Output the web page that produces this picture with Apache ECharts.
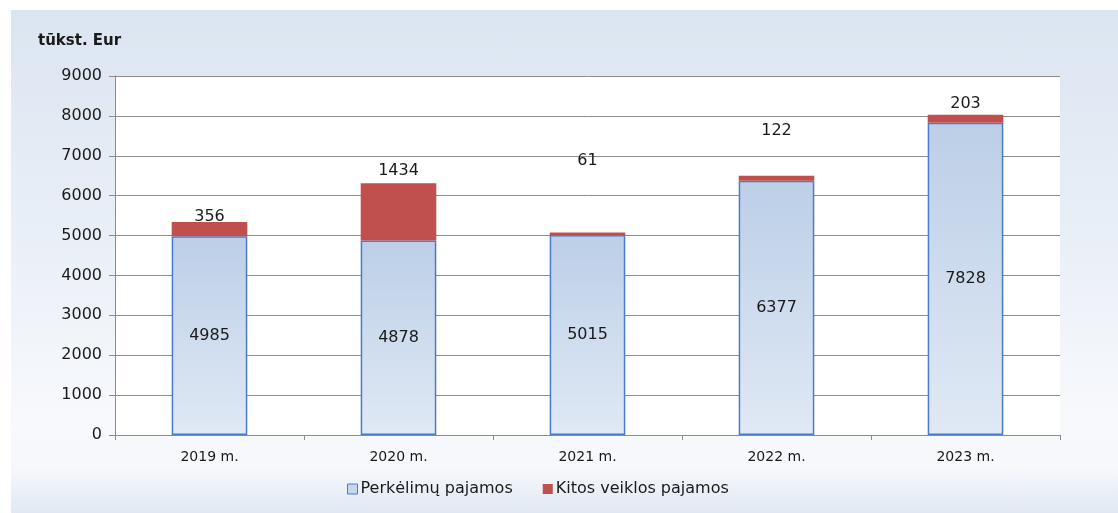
<!DOCTYPE html>
<html lang="lt">
  <head>
    <meta charset="UTF-8" />
    <title>Pajamos</title>
    <script src="https://cdn.jsdelivr.net/npm/echarts@6/dist/echarts.min.js"></script>
    <style>
      html,
      body {
        margin: 0;
        padding: 0;
        background: #ffffff;
      }
      #bg {
        position: absolute;
        left: 11px;
        top: 10px;
        width: 1107px;
        height: 503px;
        background: linear-gradient(
          to bottom,
          #dbe5f1 0%,
          #e9eff7 45%,
          #f7f9fc 80%,
          #f6f8fc 91%,
          #e0e8f3 100%
        );
      }
      #chart {
        position: absolute;
        left: 0;
        top: 0;
        width: 1118px;
        height: 513px;
      }
    </style>
  </head>
  <body>
    <div id="bg"></div>
    <div id="chart"></div>

    <script>
      var years = ["2019 m.", "2020 m.", "2021 m.", "2022 m.", "2023 m."];
      var transferIncome = [4985, 4878, 5015, 6377, 7828];
      var otherIncome = [356, 1434, 61, 122, 203];

      // label shifts for the red values, as placed in the original
      var otherLabelShift = [8, 1, -59, -32, 2];

      var chart = echarts.init(document.getElementById("chart"), null, {
        renderer: "canvas",
      });

      var font = "'DejaVu Sans', Verdana, sans-serif";

      var option = {
        backgroundColor: "transparent",
        textStyle: { fontFamily: font },
        title: {
          text: "tūkst. Eur",
          left: 33,
          top: 29,
          textStyle: {
            fontFamily: font,
            fontSize: 15,
            fontWeight: "bold",
            color: "#1a1a1a",
          },
        },
        graphic: [
          {
            type: "rect",
            z: -10,
            shape: { x: 115, y: 76, width: 945, height: 359 },
            style: { fill: "#ffffff" },
          },
        ],
        legend: {
          bottom: 11,
          left: 342,
          itemWidth: 10,
          itemHeight: 10,
          itemGap: 30,
          icon: "rect",
          textStyle: { fontFamily: font, fontSize: 16, color: "#1a1a1a", padding: [0, 0, 0, -2] },
          data: [
            {
              name: "Perkėlimų pajamos",
              itemStyle: { color: "#c6d6ec", borderColor: "#4a7bd0", borderWidth: 1 },
            },
            { name: "Kitos veiklos pajamos", itemStyle: { color: "#c0504d" } },
          ],
        },
        grid: { left: 115, right: 58, top: 76, bottom: 78 },
        xAxis: {
          type: "category",
          data: years,
          axisLine: { lineStyle: { color: "#8c8c8c", width: 1 } },
          axisTick: { show: true, length: 5, lineStyle: { color: "#8c8c8c" } },
          axisLabel: { fontFamily: font, fontSize: 14, color: "#1a1a1a", margin: 15 },
        },
        yAxis: {
          type: "value",
          min: 0,
          max: 9000,
          interval: 1000,
          axisLine: { show: true, lineStyle: { color: "#8c8c8c", width: 1 } },
          axisTick: { show: true, length: 6, lineStyle: { color: "#8c8c8c" } },
          splitLine: { lineStyle: { color: "#8c8c8c", width: 1 } },
          axisLabel: {
            fontFamily: font,
            fontSize: 16,
            color: "#1a1a1a",
            margin: 13,
            formatter: function (v) {
              return String(v);
            },
          },
        },
        series: [
          {
            name: "Perkėlimų pajamos",
            type: "bar",
            stack: "total",
            barWidth: "40%",
            data: transferIncome,
            itemStyle: {
              color: {
                type: "linear",
                x: 0,
                y: 0,
                x2: 0,
                y2: 1,
                colorStops: [
                  { offset: 0, color: "#bccfe7" },
                  { offset: 1, color: "#e0e9f5" },
                ],
              },
              borderColor: "#4a7bd0",
              borderWidth: 1.5,
            },
            label: {
              show: true,
              position: "inside",
              fontFamily: font,
              fontSize: 16,
              color: "#1a1a1a",
            },
          },
          {
            name: "Kitos veiklos pajamos",
            type: "bar",
            stack: "total",
            barWidth: "40%",
            data: otherIncome.map(function (v, i) {
              return { value: v, label: { offset: [0, otherLabelShift[i]] } };
            }),
            itemStyle: { color: "#c0504d" },
            label: {
              show: true,
              position: "top",
              distance: 5,
              fontFamily: font,
              fontSize: 16,
              color: "#1a1a1a",
            },
          },
        ],
      };

      chart.setOption(option);
    </script>
  </body>
</html>
